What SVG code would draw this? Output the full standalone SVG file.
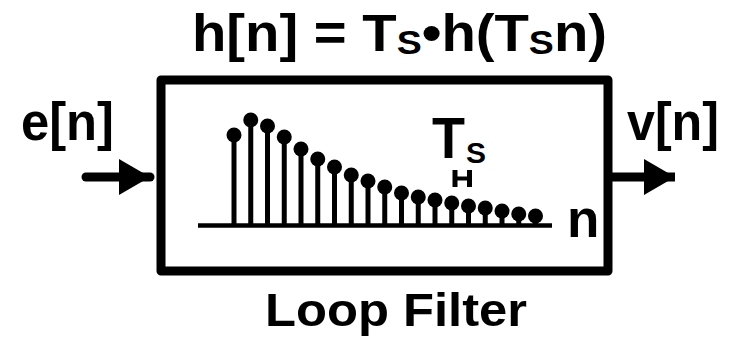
<svg xmlns="http://www.w3.org/2000/svg" width="729" height="339" viewBox="0 0 729 339">
<style>
text{font-family:"Liberation Sans",Arial,sans-serif;font-weight:bold;fill:#000}
.stem{stroke:#000;stroke-width:5}
.dot{fill:#000}
</style>
<defs>
<marker id="ah" markerUnits="userSpaceOnUse" markerWidth="32" markerHeight="36" refX="31" refY="18" orient="auto">
<polygon points="0,0 31,18 0,36" fill="#000"/>
</marker>
</defs>
<rect width="729" height="339" fill="#fff"/>
<text x="192" y="51" font-size="51" textLength="415" lengthAdjust="spacingAndGlyphs">h[n] = T<tspan font-size="34" dy="3">S</tspan><tspan dy="-3">•h(T</tspan><tspan font-size="34" dy="3">S</tspan><tspan dy="-3">n)</tspan></text>
<g id="filter">
<rect x="161" y="80" width="447" height="191" fill="none" stroke="#000" stroke-width="9" stroke-linejoin="round"/>
<line x1="198" y1="225.5" x2="552" y2="225.5" stroke="#000" stroke-width="4.5"/>
<g id="stems">
<line class="stem" x1="234" y1="225" x2="234" y2="135"/><circle class="dot" cx="234" cy="135" r="7.5"/>
<line class="stem" x1="250.75" y1="225" x2="250.75" y2="120"/><circle class="dot" cx="250.75" cy="120" r="7.5"/>
<line class="stem" x1="267.5" y1="225" x2="267.5" y2="126"/><circle class="dot" cx="267.5" cy="126" r="7.5"/>
<line class="stem" x1="284.25" y1="225" x2="284.25" y2="137"/><circle class="dot" cx="284.25" cy="137" r="7.5"/>
<line class="stem" x1="301" y1="225" x2="301" y2="149"/><circle class="dot" cx="301" cy="149" r="7.5"/>
<line class="stem" x1="317.75" y1="225" x2="317.75" y2="159"/><circle class="dot" cx="317.75" cy="159" r="7.5"/>
<line class="stem" x1="334.5" y1="225" x2="334.5" y2="167"/><circle class="dot" cx="334.5" cy="167" r="7.5"/>
<line class="stem" x1="351.25" y1="225" x2="351.25" y2="175"/><circle class="dot" cx="351.25" cy="175" r="7.5"/>
<line class="stem" x1="368" y1="225" x2="368" y2="181"/><circle class="dot" cx="368" cy="181" r="7.5"/>
<line class="stem" x1="384.75" y1="225" x2="384.75" y2="187"/><circle class="dot" cx="384.75" cy="187" r="7.5"/>
<line class="stem" x1="401.5" y1="225" x2="401.5" y2="193"/><circle class="dot" cx="401.5" cy="193" r="7.5"/>
<line class="stem" x1="418.25" y1="225" x2="418.25" y2="197"/><circle class="dot" cx="418.25" cy="197" r="7.5"/>
<line class="stem" x1="435" y1="225" x2="435" y2="200"/><circle class="dot" cx="435" cy="200" r="7.5"/>
<line class="stem" x1="451.75" y1="225" x2="451.75" y2="203"/><circle class="dot" cx="451.75" cy="203" r="7.5"/>
<line class="stem" x1="468.5" y1="225" x2="468.5" y2="206"/><circle class="dot" cx="468.5" cy="206" r="7.5"/>
<line class="stem" x1="485.25" y1="225" x2="485.25" y2="208"/><circle class="dot" cx="485.25" cy="208" r="7.5"/>
<line class="stem" x1="502" y1="225" x2="502" y2="211"/><circle class="dot" cx="502" cy="211" r="7.5"/>
<line class="stem" x1="518.75" y1="225" x2="518.75" y2="214"/><circle class="dot" cx="518.75" cy="214" r="7.5"/>
<line class="stem" x1="535.5" y1="225" x2="535.5" y2="216"/><circle class="dot" cx="535.5" cy="216" r="7.5"/>
</g>
<text x="432" y="158" font-size="57" textLength="33" lengthAdjust="spacingAndGlyphs">T</text>
<text x="466" y="163" font-size="29" textLength="20" lengthAdjust="spacingAndGlyphs">S</text>
<g id="ts-marker" stroke="#000">
<line x1="455" y1="170" x2="455" y2="187" stroke-width="5"/>
<line x1="469.5" y1="170" x2="469.5" y2="187" stroke-width="5"/>
<line x1="455" y1="178.5" x2="469.5" y2="178.5" stroke-width="4"/>
</g>
<text x="567" y="237" font-size="53">n</text>
<text x="265" y="326" font-size="47" textLength="262" lengthAdjust="spacingAndGlyphs">Loop Filter</text>
</g>
<g id="input">
<text x="21" y="140" font-size="53" textLength="93" lengthAdjust="spacingAndGlyphs">e[n]</text>
</g>
<g id="output">
<text x="627" y="140" font-size="53" textLength="92" lengthAdjust="spacingAndGlyphs">v[n]</text>
</g>
<g id="connectors">
<line x1="86" y1="177" x2="150" y2="177" stroke="#000" stroke-width="9" stroke-linecap="round" marker-end="url(#ah)"/>
<line x1="612" y1="177" x2="675" y2="177" stroke="#000" stroke-width="9" marker-end="url(#ah)"/>
</g>
</svg>
